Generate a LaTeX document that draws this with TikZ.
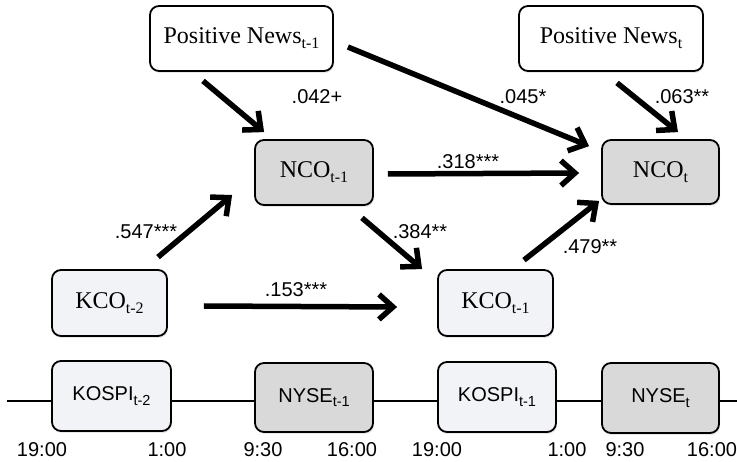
\documentclass[tikz,border=0pt]{standalone}
\usepackage{fontspec}
\setmainfont{Liberation Serif}
\setsansfont{Liberation Sans}
\usetikzlibrary{arrows.meta,calc,shadows}
\definecolor{lightfill}{RGB}{242,243,246}
\definecolor{darkfill}{RGB}{217,217,217}
\newcommand{\subser}[1]{\raisebox{-5pt}{\fontsize{16}{16}\selectfont #1}}
\newcommand{\subsan}[1]{\raisebox{-4.5pt}{\fontsize{14.5}{14.5}\selectfont #1}}
\begin{document}
\begin{tikzpicture}[x=1pt,y=-1pt,
 box/.style={draw=black,line width=1.8pt,rounded corners=9pt,inner sep=0pt,align=center,
   drop shadow={opacity=0.18,shadow xshift=1pt,shadow yshift=-2pt}},
 lightbox/.style={box,fill=lightfill},
 darkbox/.style={box,fill=darkfill},
 pnbox/.style={box,fill=white},
 serif/.style={font=\fontsize{24}{26}\selectfont},
 sans/.style={font=\sffamily\fontsize{20}{24}\selectfont},
 arr/.style={line width=5.5pt,-{Straight Barb[length=14pt,width=25pt]}},
 lbl/.style={sans,inner sep=0pt},
 tline/.style={line width=2pt}
]
\useasboundingbox (0,0) rectangle (737,462);

% timeline
\coordinate (tl0) at (7,401);
\coordinate (tl1) at (737,401);
\draw[tline] (tl0) -- (tl1);

% top nodes
\node[pnbox,serif,minimum width=183pt,minimum height=65pt] (pn1) at (241.5,38.5) {Positive News\subser{t-1}};
\node[pnbox,serif,minimum width=184pt,minimum height=65pt] (pn) at (611,38.5) {Positive News\subser{t}};
\node[darkbox,serif,minimum width=118pt,minimum height=65pt] (nco1) at (314,172.5) {NCO\subser{t-1}};
\node[darkbox,serif,minimum width=117pt,minimum height=64pt] (nco) at (660.5,172) {NCO\subser{t}};
\node[lightbox,serif,minimum width=115pt,minimum height=66pt] (kco2) at (109.5,303) {KCO\subser{t-2}};
\node[lightbox,serif,minimum width=115pt,minimum height=66pt] (kco1) at (495.5,303) {KCO\subser{t-1}};

% bottom nodes
\node[lightbox,sans,minimum width=119pt,minimum height=70pt] (kospi2) at (111.5,396) {KOSPI\subsan{t-2}};
\node[darkbox,sans,minimum width=118pt,minimum height=69pt] (nyse1) at (314,397.5) {NYSE\subsan{t-1}};
\node[lightbox,sans,minimum width=118pt,minimum height=70pt] (kospi1) at (497,397) {KOSPI\subsan{t-1}};
\node[darkbox,sans,minimum width=117pt,minimum height=70pt] (nyse) at (660.5,398) {NYSE\subsan{t}};

% arrows
\draw[arr] ($(pn1.south)+(-38.5,9)$) -- ($(nco1.north west)+(10,-7)$);
\draw[arr] ($(pn1.east)+(14,8.5)$) -- ($(nco.north west)+(-12,7)$);
\draw[arr] ($(pn.south)+(6,11)$) -- ($(nco.north)+(17.5,-7)$);
\draw[arr] ($(nco1.east)+(14,1.5)$) -- ($(nco.west)+(-22,1)$);
\draw[arr] ($(kco2.north)+(48.5,-12)$) -- ($(nco1.west)+(-22,22.5)$);
\draw[arr] ($(nco1.south)+(48,12)$) -- ($(kco1.north west)+(-15,0)$);
\draw[arr] ($(kco2.east)+(36,3)$) -- ($(kco1.west)+(-40,4)$);
\draw[arr] ($(kco1.north)+(28.5,-9)$) -- ($(nco.south west)+(-2,-4)$);

% coefficient labels
\node[lbl] (l1) at (317,97) {.042+};
\node[lbl] (l2) at (523,97) {.045*};
\node[lbl] (l3) at (682,97) {.063**};
\node[lbl] (l4) at (468,162) {.318***};
\node[lbl] (l5) at (146,232) {.547***};
\node[lbl] (l6) at (420,232) {.384**};
\node[lbl] (l7) at (590,247) {.479**};
\node[lbl] (l8) at (296,290) {.153***};

% time labels
\node[lbl] (t1) at (42,450) {19:00};
\node[lbl] (t2) at (167,450) {1:00};
\node[lbl] (t3) at (263,450) {9:30};
\node[lbl] (t4) at (352,450) {16:00};
\node[lbl] (t5) at (437,450) {19:00};
\node[lbl] (t6) at (567,450) {1:00};
\node[lbl] (t7) at (625,450) {9:30};
\node[lbl] (t8) at (712,450) {16:00};
\end{tikzpicture}
\end{document}
